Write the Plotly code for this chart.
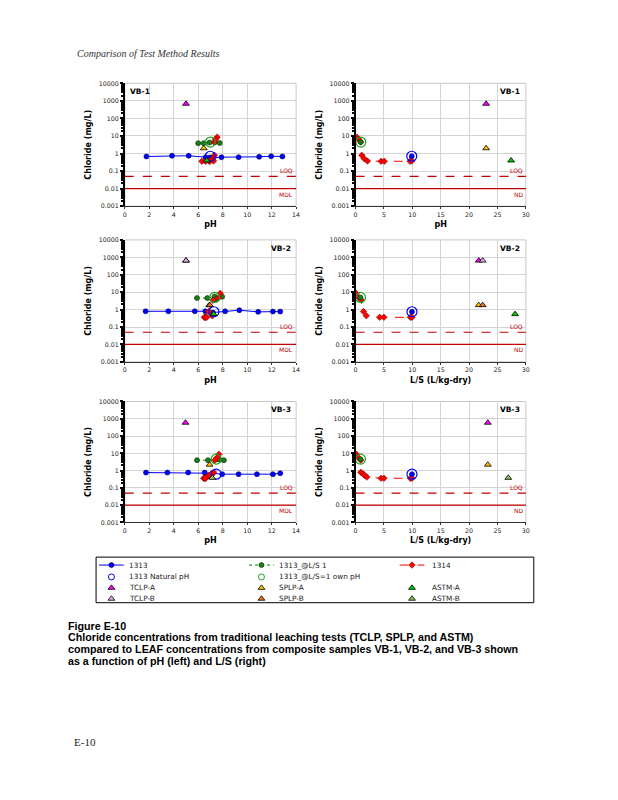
import plotly.graph_objects as go

W, H = 618, 800

# ---------------- data ----------------
SAMPLES = ["VB-1", "VB-2", "VB-3"]

# Method 1313 (pH dependence)
VB1_1313_PH = [1.77, 3.86, 5.22, 6.6, 6.95, 7.2, 7.9, 9.3, 10.98, 11.96, 12.88]
VB1_1313_CL = [0.68, 0.75, 0.75, 0.62, 0.6, 0.58, 0.62, 0.62, 0.65, 0.7, 0.68]
VB2_1313_PH = [1.7, 3.56, 5.72, 6.58, 7.2, 8.2, 9.36, 10.9, 12.1, 12.7]
VB2_1313_CL = [0.8, 0.8, 0.8, 0.8, 0.68, 0.8, 0.92, 0.74, 0.77, 0.77]
VB3_1313_PH = [1.73, 3.48, 5.18, 6.53, 7.2, 7.96, 9.3, 10.8, 12.1, 12.7]
VB3_1313_CL = [0.77, 0.77, 0.77, 0.77, 0.7, 0.62, 0.62, 0.62, 0.62, 0.7]

# 1313 natural pH point (pH, L/S, concentration)
NAT_PH = [6.98, 7.28, 7.47]
NAT_LS = [9.9, 9.94, 9.94]
NAT_CL = [0.7, 0.75, 0.62]

# 1313 @ L/S 1
VB1_LS1_PH = [6.0, 6.45, 6.92, 7.35, 7.76]
VB1_LS1_CL = [3.9, 3.9, 4.2, 4.4, 4.0]
VB2_LS1_PH = [5.9, 6.74, 7.34, 7.47, 7.96]
VB2_LS1_CL = [4.6, 4.6, 5.7, 3.8, 5.5]
VB3_LS1_PH = [5.9, 6.8, 7.47, 7.75, 8.1]
VB3_LS1_CL = [4.0, 4.0, 4.6, 4.2, 4.0]

# 1313 @ L/S=1 own pH point
OWN_PH = [7.0, 7.34, 7.47]
OWN_LS = [0.92, 0.87, 0.87]
OWN_CL = [4.5, 5.0, 4.6]

# Method 1314 (percolation column)
VB1_1314_LS = [0.23, 0.55, 0.9, 1.1, 1.52, 2.1, 4.5, 5.06, 9.6, 9.9]
VB1_1314_PH = [7.55, 7.4, 7.33, 7.33, 7.2, 6.9, 6.6, 6.3, 6.95, 7.25]
VB1_1314_CL = [8.6, 6.5, 4.5, 0.8, 0.51, 0.37, 0.36, 0.36, 0.36, 0.38]
VB2_1314_LS = [0.1, 0.6, 1.05, 1.4, 1.9, 4.25, 5.0, 9.65, 9.94]
VB2_1314_PH = [7.8, 7.66, 7.2, 6.85, 7.15, 6.5, 6.6, 6.55, 6.7]
VB2_1314_CL = [8.6, 4.8, 3.4, 0.77, 0.44, 0.36, 0.36, 0.36, 0.36]
VB3_1314_LS = [0.17, 0.47, 0.93, 0.93, 1.34, 1.6, 2.0, 4.5, 5.0, 9.65, 9.94]
VB3_1314_PH = [7.69, 7.55, 7.35, 7.26, 7.07, 6.85, 6.66, 6.45, 6.5, 6.6, 6.55]
VB3_1314_CL = [8.8, 5.7, 4.0, 0.8, 0.65, 0.52, 0.42, 0.36, 0.36, 0.36, 0.36]

# Traditional tests (one value per sample, None = not shown)
TCLP_A_PH = [5.0, 5.0, 4.96]
TCLP_A_LS = [23.0, 21.7, 23.3]
TCLP_A_CL = [680, 650, 590]
TCLP_B_PH = [None, 5.0, None]
TCLP_B_LS = [None, 22.4, None]
TCLP_B_CL = [None, 650, None]
SPLP_A_PH = [6.45, 6.9, 6.93]
SPLP_A_LS = [23.0, 21.7, 23.3]
SPLP_A_CL = [2.0, 1.8, 2.2]
SPLP_B_PH = [None, 6.95, None]
SPLP_B_LS = [None, 22.4, None]
SPLP_B_CL = [None, 1.8, None]
ASTM_A_PH = [6.7, 7.26, None]
ASTM_A_LS = [27.4, 28.1, None]
ASTM_A_CL = [0.4, 0.55, None]
ASTM_B_PH = [None, None, 7.15]
ASTM_B_LS = [None, None, 26.9]
ASTM_B_CL = [None, None, 0.38]

LOQ = 0.05
MDL = 0.01

Y_TICKS = [0.001, 0.01, 0.1, 1, 10, 100, 1000, 10000]
Y_TICKTEXT = ["0.001", "0.01", "0.1", "1", "10", "100", "1000", "10000"]
PH_TICKS = [0, 2, 4, 6, 8, 10, 12, 14]
LS_TICKS = [0, 5, 10, 15, 20, 25, 30]

X_TITLES_RIGHT = ["pH", "L/S (L/kg-dry)", "L/S (L/kg-dry)"]

# ---------------- styles ----------------
C_BLUE = "#0000FF"
C_GREEN = "#1E7B1E"
C_GREEN_OPEN = "#20A020"
C_RED = "#FF0000"
STYLE = {
    "1313": dict(mode="lines+markers", line=dict(color=C_BLUE, width=1),
                 marker=dict(symbol="circle", size=5, color=C_BLUE, line=dict(color="#000060", width=0.6))),
    "nat": dict(mode="markers", marker=dict(symbol="circle-open", size=10, color=C_BLUE, line=dict(width=1.2))),
    "ls1": dict(mode="lines+markers", line=dict(color="#008000", width=1, dash="dot"),
                marker=dict(symbol="circle", size=5, color=C_GREEN, line=dict(color="#003000", width=0.6))),
    "own": dict(mode="markers", marker=dict(symbol="circle-open", size=10, color=C_GREEN_OPEN, line=dict(width=1.2))),
    "1314": dict(mode="lines+markers", line=dict(color=C_RED, width=1, dash="dash"),
                 marker=dict(symbol="diamond", size=5, color=C_RED, line=dict(color="#700000", width=0.5))),
    "tclpa": dict(mode="markers", marker=dict(symbol="triangle-up", size=6, color="#FF00FF", line=dict(color="black", width=0.8))),
    "tclpb": dict(mode="markers", marker=dict(symbol="triangle-up", size=6, color="#E8A8E8", line=dict(color="black", width=0.8))),
    "splpa": dict(mode="markers", marker=dict(symbol="triangle-up", size=6, color="#FFC000", line=dict(color="black", width=0.8))),
    "splpb": dict(mode="markers", marker=dict(symbol="triangle-up", size=6, color="#F07020", line=dict(color="black", width=0.8))),
    "astma": dict(mode="markers", marker=dict(symbol="triangle-up", size=6, color="#00CC00", line=dict(color="black", width=0.8))),
    "astmb": dict(mode="markers", marker=dict(symbol="triangle-up", size=6, color="#92C050", line=dict(color="black", width=0.8))),
}

def px(xp):
    return xp / W

def py(yp):
    return 1 - yp / H

LEFT_DOM = [px(124), px(297)]
RIGHT_DOM = [px(357), px(529)]
ROWS_PX = [(80, 204), (238, 361), (401, 523)]

fig = go.Figure()
layout = dict(width=W, height=H, margin=dict(l=0, r=0, t=0, b=0),
              paper_bgcolor="white", plot_bgcolor="white", showlegend=False)
annotations = []
shapes = []

TICKFONT = dict(family="DejaVu Sans", size=6.3, color="#222")
TITLEFONT = dict(family="DejaVu Sans", size=8, color="black")
MINOR_Y = [k * 10 ** e for e in range(-3, 4) for k in range(2, 10)]

def add(style, x, y, xa, ya):
    pts = [(a, b) for a, b in zip(x, y) if a is not None and b is not None]
    if not pts:
        return
    s = STYLE[style]
    fig.add_trace(go.Scatter(x=[p[0] for p in pts], y=[p[1] for p in pts],
                             xaxis=xa, yaxis=ya, hoverinfo="skip", **s))

ph_1313 = [VB1_1313_PH, VB2_1313_PH, VB3_1313_PH]
cl_1313 = [VB1_1313_CL, VB2_1313_CL, VB3_1313_CL]
ph_ls1 = [VB1_LS1_PH, VB2_LS1_PH, VB3_LS1_PH]
cl_ls1 = [VB1_LS1_CL, VB2_LS1_CL, VB3_LS1_CL]
ls_1314 = [VB1_1314_LS, VB2_1314_LS, VB3_1314_LS]
ph_1314 = [VB1_1314_PH, VB2_1314_PH, VB3_1314_PH]
cl_1314 = [VB1_1314_CL, VB2_1314_CL, VB3_1314_CL]

for r, name in enumerate(SAMPLES):
    top, bot = ROWS_PX[r]
    ydom = [py(bot), py(top)]
    for c in range(2):
        idx = r * 2 + c + 1
        xk = "xaxis" if idx == 1 else f"xaxis{idx}"
        yk = "yaxis" if idx == 1 else f"yaxis{idx}"
        xa = "x" if idx == 1 else f"x{idx}"
        ya = "y" if idx == 1 else f"y{idx}"
        is_left = c == 0
        layout[xk] = dict(
            domain=LEFT_DOM if is_left else RIGHT_DOM, anchor=ya,
            range=[0, 14] if is_left else [0, 30],
            tickvals=PH_TICKS if is_left else LS_TICKS,
            showgrid=True, gridcolor="#d4d4d4", gridwidth=1, zeroline=False,
            showline=True, linecolor="#333", linewidth=1,
            ticks="outside", ticklen=2, tickcolor="#333", tickfont=TICKFONT,
            title=dict(text="<b>pH</b>" if is_left else f"<b>{X_TITLES_RIGHT[r]}</b>",
                       font=TITLEFONT, standoff=4),
        )
        layout[yk] = dict(
            domain=ydom, anchor=xa, type="log", range=[-3, 4],
            tickvals=Y_TICKS, ticktext=Y_TICKTEXT,
            showgrid=True, gridcolor="#d4d4d4", gridwidth=1, zeroline=False,
            showline=True, linecolor="black", linewidth=1.5,
            ticks="outside", ticklen=3, tickwidth=1.5, tickcolor="black", tickfont=TICKFONT,
            minor=dict(tickvals=MINOR_Y, ticks="outside", ticklen=2, tickcolor="black", showgrid=False),
            title=dict(text="<b>Chloride (mg/L)</b>", font=TITLEFONT, standoff=6),
        )
        # frame (top/right) in light gray
        shapes.append(dict(type="rect", xref=f"{xa} domain", yref=f"{ya} domain",
                           x0=0, x1=1, y0=0, y1=1, line=dict(color="#c8c8c8", width=1), layer="below"))
        # LOQ and MDL lines
        shapes.append(dict(type="line", xref=f"{xa} domain", yref=ya, x0=0, x1=1,
                           y0=LOQ, y1=LOQ, line=dict(color="#C00000", width=1.2, dash="dash")))
        shapes.append(dict(type="line", xref=f"{xa} domain", yref=ya, x0=0, x1=1,
                           y0=MDL, y1=MDL, line=dict(color="#C00000", width=1.2)))
        annotations.append(dict(text="LOQ", xref=f"{xa} domain", yref=ya, x=0.995, y=-1.301,
                                xanchor="right", yanchor="bottom", showarrow=False,
                                font=dict(family="DejaVu Sans", size=6, color="#C00000")))
        annotations.append(dict(text="MDL" if is_left else "ND", xref=f"{xa} domain", yref=ya,
                                x=0.995, y=-2, xanchor="right", yanchor="top", showarrow=False,
                                font=dict(family="DejaVu Sans", size=6, color="#C00000")))
        # sample label
        tl = (r == 0 and is_left)
        annotations.append(dict(text=f"<b>{name}</b>", xref=f"{xa} domain", yref=f"{ya} domain",
                                x=0.02 if tl else 0.98, y=0.985,
                                xanchor="left" if tl else "right", yanchor="top", showarrow=False,
                                font=dict(family="DejaVu Sans", size=7.5, color="black")))
        if is_left:
            add("1313", ph_1313[r], cl_1313[r], xa, ya)
            add("ls1", ph_ls1[r], cl_ls1[r], xa, ya)
            add("1314", ph_1314[r], cl_1314[r], xa, ya)
            add("nat", [NAT_PH[r]], [NAT_CL[r]], xa, ya)
            add("own", [OWN_PH[r]], [OWN_CL[r]], xa, ya)
            add("tclpa", [TCLP_A_PH[r]], [TCLP_A_CL[r]], xa, ya)
            add("tclpb", [TCLP_B_PH[r]], [TCLP_B_CL[r]], xa, ya)
            add("splpa", [SPLP_A_PH[r]], [SPLP_A_CL[r]], xa, ya)
            add("splpb", [SPLP_B_PH[r]], [SPLP_B_CL[r]], xa, ya)
            add("astma", [ASTM_A_PH[r]], [ASTM_A_CL[r]], xa, ya)
            add("astmb", [ASTM_B_PH[r]], [ASTM_B_CL[r]], xa, ya)
        else:
            add("1314", ls_1314[r], cl_1314[r], xa, ya)
            add("1313", [NAT_LS[r]], [NAT_CL[r]], xa, ya)
            add("ls1", [OWN_LS[r]], [OWN_CL[r]], xa, ya)
            add("nat", [NAT_LS[r]], [NAT_CL[r]], xa, ya)
            add("own", [OWN_LS[r]], [OWN_CL[r]], xa, ya)
            add("tclpa", [TCLP_A_LS[r]], [TCLP_A_CL[r]], xa, ya)
            add("tclpb", [TCLP_B_LS[r]], [TCLP_B_CL[r]], xa, ya)
            add("splpa", [SPLP_A_LS[r]], [SPLP_A_CL[r]], xa, ya)
            add("splpb", [SPLP_B_LS[r]], [SPLP_B_CL[r]], xa, ya)
            add("astma", [ASTM_A_LS[r]], [ASTM_A_CL[r]], xa, ya)
            add("astmb", [ASTM_B_LS[r]], [ASTM_B_CL[r]], xa, ya)

# ---------------- legend (drawn as a small panel) ----------------
LEG_BOX = (95, 558, 537, 604)   # px: left, top, right, bottom
LEG_COL_SYM = [110.5, 262, 414]
LEG_COL_TXT = [126, 278, 432]
LEG_ROW_Y = [566, 578, 589, 600]
LEG_ITEMS = [
    ("1313", "1313", 0, 0), ("ls1", "1313_@L/S 1", 1, 0), ("1314", "1314", 2, 0),
    ("nat", "1313 Natural pH", 0, 1), ("own", "1313_@L/S=1 own pH", 1, 1),
    ("tclpa", "TCLP-A", 0, 2), ("splpa", "SPLP-A", 1, 2), ("astma", "ASTM-A", 2, 2),
    ("tclpb", "TCLP-B", 0, 3), ("splpb", "SPLP-B", 1, 3), ("astmb", "ASTM-B", 2, 3),
]
layout["xaxis7"] = dict(domain=[px(LEG_BOX[0]), px(LEG_BOX[2])], range=[LEG_BOX[0], LEG_BOX[2]],
                        visible=False, fixedrange=True, anchor="y7")
layout["yaxis7"] = dict(domain=[py(LEG_BOX[3]), py(LEG_BOX[1])], range=[LEG_BOX[3], LEG_BOX[1]],
                        visible=False, fixedrange=True, anchor="x7")
for key, label, col, row in LEG_ITEMS:
    s = STYLE[key]
    cx, cy = LEG_COL_SYM[col], LEG_ROW_Y[row]
    mk = dict(s["marker"])
    if "open" in mk["symbol"]:
        mk["size"] = 6
        mk["line"] = dict(width=1)
    if "lines" in s["mode"]:
        fig.add_trace(go.Scatter(x=[cx - 12.5, cx + 12.5], y=[cy, cy], mode="lines", line=s["line"],
                                 xaxis="x7", yaxis="y7", hoverinfo="skip"))
    fig.add_trace(go.Scatter(x=[cx], y=[cy], mode="markers", marker=mk,
                             xaxis="x7", yaxis="y7", hoverinfo="skip"))
    annotations.append(dict(text=label, xref="x7", yref="y7", x=LEG_COL_TXT[col], y=cy,
                            xanchor="left", yanchor="middle", showarrow=False,
                            font=dict(family="DejaVu Sans", size=7.3, color="#222")))
shapes.append(dict(type="rect", xref="paper", yref="paper", x0=px(LEG_BOX[0]), x1=px(LEG_BOX[2]),
                   y0=py(LEG_BOX[3]), y1=py(LEG_BOX[1]), line=dict(color="black", width=1)))

# ---------------- page texts ----------------
annotations.append(dict(text="<i>Comparison of Test Method Results</i>", xref="paper", yref="paper",
                        x=px(74), y=py(50), xanchor="left", yanchor="middle", showarrow=False,
                        font=dict(family="Liberation Serif", size=10, color="#333")))
CAPTION = [
    "<b>Figure E-10</b>",
    "<b>Chloride concentrations from traditional leaching tests (TCLP, SPLP, and ASTM)</b>",
    "<b>compared to LEAF concentrations from composite samples VB-1, VB-2, and VB-3 shown</b>",
    "<b>as a function of pH (left) and L/S (right)</b>",
]
for i, line in enumerate(CAPTION):
    annotations.append(dict(text=line, xref="paper", yref="paper", x=px(65), y=py(627 + 12 * i),
                            xanchor="left", yanchor="middle", showarrow=False,
                            font=dict(family="Liberation Sans", size=10.7, color="black")))
annotations.append(dict(text="E-10", xref="paper", yref="paper", x=px(71), y=py(745),
                        xanchor="left", yanchor="middle", showarrow=False,
                        font=dict(family="Liberation Serif", size=11, color="#222")))

layout["annotations"] = annotations
layout["shapes"] = shapes
fig.update_layout(**layout)
fig.write_html("out.html", config={"displayModeBar": False},
               post_script="document.body.style.margin='0';document.body.style.padding='0';"
                           "document.documentElement.style.overflow='hidden';")
